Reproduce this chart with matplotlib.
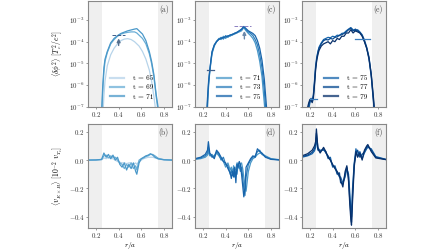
import numpy as np
import matplotlib
matplotlib.use("Agg")
import matplotlib.pyplot as plt
from matplotlib import cm

plt.rcParams['font.family'] = ['cmr10', 'DejaVu Serif']
plt.rcParams['mathtext.fontset'] = 'cm'
plt.rcParams['axes.formatter.use_mathtext'] = True
plt.rcParams['axes.unicode_minus'] = True

# ---------------- data (log10 of <dphi^2>) ----------------
r_a = [0.13, 0.24, 0.25, 0.26, 0.27, 0.28, 0.30, 0.33, 0.36, 0.39, 0.42, 0.45, 0.48,
       0.51, 0.54, 0.56, 0.58, 0.61, 0.64, 0.67, 0.69, 0.71, 0.73, 0.75, 0.77, 0.87]
a_t65 = [-8, -8, -8, -7.5, -6.5, -5.8, -5.1, -4.6, -4.3, -4.1, -3.95, -3.88, -3.86,
         -3.9, -4.0, -4.1, -4.2, -4.45, -4.8, -5.3, -5.8, -6.5, -7.3, -8, -8, -8]
a_t69 = [-8, -8, -7.5, -6.3, -5.4, -4.9, -4.5, -4.1, -3.9, -3.75, -3.65, -3.6, -3.57,
         -3.55, -3.55, -3.6, -3.7, -3.85, -4.1, -4.55, -5.0, -5.6, -6.5, -7.3, -8, -8]
a_t71 = [-8, -8, -7.2, -6.0, -5.2, -4.8, -4.45, -4.05, -3.85, -3.72, -3.62, -3.56, -3.5,
         -3.46, -3.42, -3.40, -3.5, -3.65, -3.95, -4.45, -4.9, -5.5, -6.4, -7.1, -8, -8]

r_c = [0.13, 0.22, 0.23, 0.24, 0.25, 0.26, 0.27, 0.28, 0.30, 0.32, 0.34, 0.36, 0.38,
       0.40, 0.42, 0.44, 0.46, 0.48, 0.50, 0.52, 0.54, 0.56, 0.58, 0.60, 0.62, 0.64,
       0.66, 0.68, 0.70, 0.72, 0.74, 0.76, 0.78, 0.87]
c_t71 = [-8, -8, -8, -7.0, -6.0, -5.4, -4.95, -4.55, -4.2, -4.0, -3.85, -3.9, -3.75,
         -3.85, -3.72, -3.75, -3.65, -3.65, -3.58, -3.55, -3.5, -3.35, -3.5, -3.62,
         -3.72, -3.85, -4.05, -4.4, -4.9, -5.6, -6.8, -8, -8, -8]
c_t73 = [-8, -8, -7.8, -6.8, -5.9, -5.35, -4.9, -4.5, -4.15, -3.98, -3.88, -3.8, -3.88,
         -3.72, -3.8, -3.68, -3.7, -3.6, -3.6, -3.5, -3.45, -3.32, -3.45, -3.55, -3.62,
         -3.72, -3.9, -4.15, -4.6, -5.2, -6.2, -7.6, -8, -8]
c_t75 = [-8, -8, -7.6, -6.6, -5.8, -5.3, -4.85, -4.45, -4.15, -4.0, -3.9, -3.85, -3.8,
         -3.78, -3.74, -3.7, -3.66, -3.62, -3.56, -3.5, -3.42, -3.3, -3.4, -3.5, -3.56,
         -3.62, -3.72, -3.95, -4.3, -4.85, -5.7, -7.0, -8, -8]

r_e = [0.13, 0.16, 0.18, 0.19, 0.20, 0.21, 0.22, 0.23, 0.24, 0.25, 0.26, 0.27, 0.28,
       0.30, 0.32, 0.34, 0.36, 0.38, 0.40, 0.42, 0.44, 0.46, 0.48, 0.50, 0.52, 0.54,
       0.56, 0.58, 0.60, 0.62, 0.64, 0.66, 0.68, 0.70, 0.72, 0.74, 0.76, 0.78, 0.87]
e_t75 = [-8, -8, -7.6, -7.1, -6.8, -6.7, -6.7, -6.45, -5.8, -5.1, -4.7, -4.45, -4.25,
         -4.05, -3.9, -3.85, -3.8, -3.82, -3.75, -3.78, -3.7, -3.72, -3.62, -3.6, -3.5,
         -3.42, -3.35, -3.45, -3.5, -3.45, -3.55, -3.68, -3.92, -4.25, -4.7, -5.5, -6.7,
         -8, -8]
e_t77 = [-8, -8, -7.3, -6.9, -6.7, -6.6, -6.75, -6.5, -5.9, -5.2, -4.8, -4.5, -4.3,
         -4.1, -3.95, -3.9, -3.92, -3.85, -3.88, -3.8, -3.78, -3.7, -3.68, -3.62, -3.55,
         -3.45, -3.38, -3.5, -3.42, -3.5, -3.58, -3.72, -3.98, -4.3, -4.8, -5.6, -6.8,
         -8, -8]
e_t79 = [-8, -8, -7.0, -6.8, -6.65, -6.7, -6.8, -6.6, -6.0, -5.3, -4.85, -4.6, -4.4,
         -4.2, -4.1, -4.05, -4.0, -4.1, -3.95, -4.0, -3.85, -3.9, -3.75, -3.75, -3.6,
         -3.6, -3.45, -3.6, -3.5, -3.55, -3.6, -3.75, -4.0, -4.3, -4.75, -5.5, -6.6,
         -8, -8]

# ---------------- data (<v_ExB> in 1e-2 v_Te) ----------------
r_b = [0.13, 0.20, 0.25, 0.27, 0.29, 0.31, 0.33, 0.35, 0.37, 0.39, 0.41, 0.43, 0.45,
       0.47, 0.49, 0.51, 0.53, 0.55, 0.56, 0.58, 0.60, 0.62, 0.64, 0.66, 0.68, 0.70,
       0.72, 0.75, 0.80, 0.87]
b_t65 = [0, 0, 0.002, 0.015, 0.01, 0.02, 0.01, 0.01, 0.0, -0.01, -0.015, -0.02, -0.02,
         -0.025, -0.02, -0.02, -0.03, -0.02, -0.03, -0.01, 0.0, 0.01, 0.015, 0.02, 0.02,
         0.02, 0.015, 0.008, 0.002, 0.0]
b_t69 = [0, 0.001, 0.004, 0.03, 0.035, 0.015, 0.03, 0.02, 0.02, 0.0, -0.02, -0.03,
         -0.06, -0.03, -0.05, -0.02, -0.06, -0.04, -0.07, 0.0, 0.01, 0.015, 0.025, 0.03,
         0.04, 0.04, 0.03, 0.012, 0.003, 0.0]
b_t71 = [0, 0.001, 0.005, 0.05, 0.02, 0.04, 0.01, 0.035, 0.0, 0.02, -0.03, -0.05, -0.02,
         -0.07, -0.03, -0.06, -0.02, -0.08, -0.10, -0.02, 0.01, 0.02, 0.03, 0.035, 0.045,
         0.035, 0.02, 0.008, 0.002, 0.0]

r_d = [0.13, 0.18, 0.22, 0.24, 0.248, 0.26, 0.28, 0.30, 0.32, 0.34, 0.36, 0.38, 0.40,
       0.42, 0.44, 0.45, 0.46, 0.47, 0.48, 0.49, 0.50, 0.51, 0.52, 0.53, 0.54, 0.55,
       0.56, 0.57, 0.58, 0.60, 0.62, 0.64, 0.66, 0.68, 0.70, 0.72, 0.75, 0.80, 0.87]
d_t71 = [0.005, 0.01, 0.02, 0.035, 0.06, 0.03, 0.04, 0.02, 0.05, 0.03, 0.01, -0.01,
         -0.05, -0.02, -0.07, -0.05, -0.09, -0.04, -0.08, -0.06, -0.02, -0.05, -0.06,
         -0.03, -0.02, -0.06, -0.12, -0.18, -0.22, -0.08, -0.02, 0.01, 0.02, 0.04, 0.05,
         0.045, 0.03, 0.01, 0.003]
d_t73 = [0.008, 0.015, 0.03, 0.05, 0.09, 0.04, 0.02, 0.03, 0.06, 0.04, 0.0, 0.02, -0.03,
         -0.04, -0.1, -0.07, -0.11, -0.06, -0.12, -0.08, -0.1, -0.02, -0.04, -0.08, -0.05,
         -0.12, -0.20, -0.25, -0.12, -0.03, 0.0, 0.02, 0.03, 0.06, 0.07, 0.04, 0.025,
         0.007, 0.002]
d_t75 = [0.01, 0.02, 0.04, 0.07, 0.13, 0.05, 0.03, 0.01, 0.07, 0.05, 0.02, -0.01, -0.02,
         -0.06, -0.09, -0.13, -0.08, -0.12, -0.05, -0.16, -0.03, -0.05, -0.01, -0.03,
         -0.10, -0.18, -0.26, -0.20, -0.05, -0.02, 0.01, 0.03, 0.02, 0.08, 0.06, 0.05,
         0.02, 0.005, 0.001]

r_f = [0.13, 0.18, 0.22, 0.24, 0.25, 0.257, 0.27, 0.29, 0.32, 0.34, 0.36, 0.38, 0.40,
       0.42, 0.44, 0.46, 0.47, 0.49, 0.51, 0.525, 0.54, 0.55, 0.56, 0.566, 0.575, 0.59,
       0.605, 0.62, 0.64, 0.66, 0.68, 0.70, 0.71, 0.74, 0.78, 0.87]
f_t75 = [0.02, 0.03, 0.045, 0.065, 0.09, 0.16, 0.07, 0.07, 0.07, 0.06, 0.01, 0.02, -0.05,
         -0.04, -0.09, -0.12, -0.12, -0.16, -0.12, -0.06, -0.10, -0.22, -0.35, -0.40,
         -0.20, -0.02, 0.08, 0.03, 0.06, 0.01, 0.05, 0.08, 0.09, 0.08, 0.025, 0.005]
f_t77 = [0.025, 0.035, 0.055, 0.08, 0.11, 0.19, 0.09, 0.06, 0.08, 0.05, 0.03, 0.0, -0.04,
         -0.05, -0.10, -0.09, -0.16, -0.17, -0.10, -0.05, -0.12, -0.27, -0.38, -0.44,
         -0.25, -0.03, 0.04, 0.07, 0.02, 0.04, 0.06, 0.09, 0.10, 0.07, 0.02, 0.004]
f_t79 = [0.03, 0.045, 0.07, 0.10, 0.13, 0.22, 0.08, 0.05, 0.09, 0.06, 0.02, 0.0, -0.03,
         -0.06, -0.08, -0.11, -0.14, -0.19, -0.08, -0.04, -0.15, -0.30, -0.42, -0.46,
         -0.30, -0.05, 0.06, 0.02, 0.05, 0.0, 0.07, 0.10, 0.11, 0.06, 0.015, 0.003]

times = [[65, 69, 71], [71, 73, 75], [75, 77, 79]]
top_r = [r_a, r_c, r_e]
top_vals = [[a_t65, a_t69, a_t71], [c_t71, c_t73, c_t75], [e_t75, e_t77, e_t79]]
bot_r = [r_b, r_d, r_f]
bot_vals = [[b_t65, b_t69, b_t71], [d_t71, d_t73, d_t75], [f_t75, f_t77, f_t79]]
top_tags = ['(a)', '(c)', '(e)']
bot_tags = ['(b)', '(d)', '(f)']


def tcolor(t):
    return cm.Blues(0.2 + 0.8 * (t - 63) / (79 - 63))


W, H = 448, 252
fig = plt.figure(figsize=(W / 100, H / 100), dpi=100)
lefts = [88, 195, 302]
wid = 84
spine_c = '#888888'
shade = '#efefef'
annc = '#3f5f8a'

axes_top, axes_bot = [], []
for j in range(3):
    axt = fig.add_axes([lefts[j] / W, 1 - 107 / H, wid / W, 106 / H])
    axb = fig.add_axes([lefts[j] / W, 1 - 228 / H, wid / W, 104 / H])
    axes_top.append(axt)
    axes_bot.append(axb)
    for ax in (axt, axb):
        ax.axvspan(0.13, 0.25, color=shade, lw=0, zorder=0)
        ax.axvspan(0.75, 0.87, color=shade, lw=0, zorder=0)
        ax.set_xlim(0.13, 0.87)
        ax.set_xticks([0.2, 0.4, 0.6, 0.8])
        for s in ax.spines.values():
            s.set_color(spine_c)
            s.set_linewidth(0.8)
        ax.tick_params(labelsize=5, length=1.6, width=0.6, color=spine_c,
                       labelcolor='#333333', pad=0.8)
    for k, t in enumerate(times[j]):
        axt.plot(top_r[j], 10.0 ** np.array(top_vals[j][k]), color=tcolor(t), lw=0.9,
                 label=f't = {t}')
        axb.plot(bot_r[j], bot_vals[j][k], color=tcolor(t), lw=0.9)
    axt.set_yscale('log')
    axt.set_ylim(1e-7, 10 ** -2.13)
    axt.set_yticks([1e-7, 1e-6, 1e-5, 1e-4, 1e-3])
    axt.minorticks_off()
    axb.set_ylim(-0.48, 0.255)
    axb.set_yticks([-0.4, -0.2, 0.0, 0.2])
    axb.set_yticklabels(['$-0.4$', '$-0.2$', '$0.0$', '$0.2$'])
    axb.set_xlabel('$r/a$', fontsize=5.2, labelpad=0)
    axt.text(0.96, 0.96, top_tags[j], transform=axt.transAxes, ha='right', va='top',
             fontsize=5.5, color='#444444')
    axb.text(0.96, 0.96, bot_tags[j], transform=axb.transAxes, ha='right', va='top',
             fontsize=5.5, color='#444444')
    leg = axt.legend(loc='lower center', bbox_to_anchor=(0.52, 0.0), frameon=False,
                     fontsize=5.2, handlelength=2.0, handletextpad=1.2,
                     labelspacing=0.45, borderaxespad=0.6)
    for h in leg.get_lines():
        h.set_linewidth(1.6)
        h.set_alpha(0.75)

axes_top[0].set_ylabel(r'$\langle\delta\phi^2\rangle\ [T_e^2/e^2]$', fontsize=5.5, labelpad=2)
axes_bot[0].set_ylabel(r'$\langle v_{E\times B}\rangle\ [10^{-2}\ v_{T_e}]$', fontsize=5.5,
                       labelpad=2)

# annotations
ax = axes_top[0]
ax.plot([0.34, 0.46], [10 ** -3.67, 10 ** -3.67], ls='--', color=annc, lw=0.7)
ax.annotate('', xy=(0.40, 10 ** -3.72), xytext=(0.40, 10 ** -4.3),
            arrowprops=dict(arrowstyle='-|>', color='#55708f', lw=1.0, mutation_scale=5))
ax = axes_top[1]
ax.plot([0.47, 0.62], [10 ** -3.3, 10 ** -3.3], ls='--', color='#8a7fc0', lw=0.7)
ax.plot([0.24, 0.30], [10 ** -5.32, 10 ** -5.32], color=annc, lw=0.9)
ax.annotate('', xy=(0.565, 10 ** -3.38), xytext=(0.565, 10 ** -4.0),
            arrowprops=dict(arrowstyle='-|>', color='#6a88aa', lw=1.0, mutation_scale=5))
ax = axes_top[2]
ax.plot([0.60, 0.73], [10 ** -3.86, 10 ** -3.86], color='#3d7fbf', lw=0.9)
ax.plot([0.20, 0.26], [10 ** -6.64, 10 ** -6.64], color='#3d7fbf', lw=0.9)

fig.savefig('out.png', dpi=100)
